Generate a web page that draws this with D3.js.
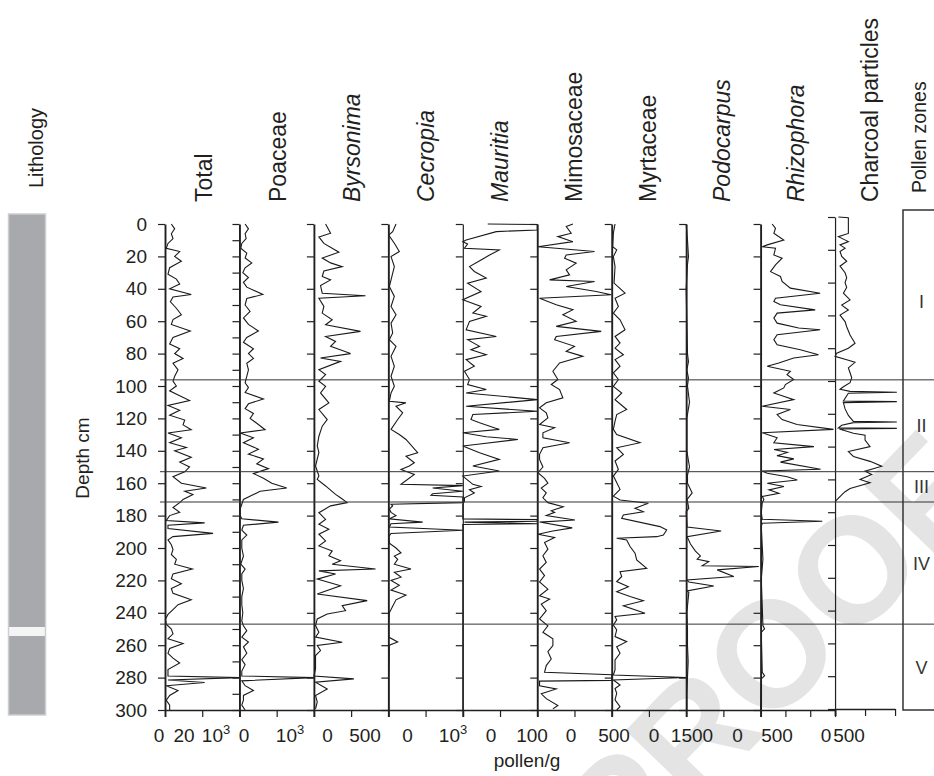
<!DOCTYPE html>
<html><head><meta charset="utf-8">
<script src="https://cdn.jsdelivr.net/npm/d3@7"></script>
<style>
body{margin:0;background:#fff;}
svg{display:block;}
text{font-family:"Liberation Sans", Arial, Helvetica, sans-serif; fill:#231f20;}
</style></head><body>
<svg id="c" width="934" height="776"></svg>
<script>
// ---------------- DATA ----------------
const taxa = ["Total","Poaceae","Byrsonima","Cecropia","Mauritia","Mimosaceae","Myrtaceae","Podocarpus","Rhizophora","Charcoal particles"];
const italicTaxa = [false,false,true,true,true,false,false,true,true,false];
const domainMax = [40,2000,1000,2000,200,1000,3000,1000,1500,1000];
const xTickValues = [[0,20,40],[0,1000,2000],[0,500,1000],[0,1000,2000],[0,100,200],[0,500,1000],[0,1500,3000],[0,500,1000],[0,500,1000,1500],[0,500,1000]];
const bottomTickLabels = ["0","20","10^3","0","10^3","0","500","0","10^3","0","100","0","500","0","1500","0","500","0","500"];
const depthTickLabels = [0,20,40,60,80,100,120,140,160,180,200,220,240,260,280,300];
const zoneBoundaries = [96.2,152.9,171.6,247];
const zoneNames = ["I","II","III","IV","V"];
const lithology = [{from:0,to:247.3,type:"sediment"},{from:247.3,to:252.7,type:"sand"},{from:252.7,to:300,type:"sediment"}];

const totalSeries = [[0,3.4],[3,5.2],[6,3.4],[9,4.3],[12,1.6],[15,0.7],[17,7.9],[20,5.2],[23,8.8],[27,2.5],[31,1.6],[34,6.1],[37,7.9],[40,2.5],[43.5,14.1],[45,4.3],[48,2.9],[52,6.1],[56,8.8],[59,4.3],[62,3.4],[66,13.6],[70,4.3],[74,2.5],[77,7.9],[80,5.2],[83,9.7],[86,4.3],[90,7],[94,5.2],[97,4.3],[100,6.1],[103,2.5],[106,7.9],[109,13.2],[112,1.6],[115,7.9],[118,2.5],[121,10.6],[124,9.7],[127,14.1],[129,1.6],[132,8.8],[135,2.5],[138,11.5],[140,5.2],[144,14.1],[147,7.9],[150,13.2],[153,10.6],[156,4.3],[160,8.8],[163,22.2],[165,10.6],[167,15],[170,9.7],[172,7.9],[175,4.3],[178,7.9],[180,2.5],[183,0.7],[184.5,21.3],[186,1.6],[188,1.6],[191,25.8],[193,4.3],[195,1.6],[198,3.4],[201,4.3],[204,3.4],[207,6.1],[210,5.2],[213,14.7],[216,4.3],[219,3.4],[222,8.8],[225,3.4],[228,4.3],[232,14.1],[235,7],[238,4.3],[241,1.6],[244,0.2],[247,0.7],[250,3.4],[253,4.3],[256,1.6],[259,9.7],[262,2.5],[265,1.6],[268,4.3],[271,7.9],[275,1.6],[279,1.6],[280,40],[281.5,1.6],[283,21.3],[285,0.7],[288,7],[291,2.5],[294,0.7],[297,2.5],[300,2.5]];

const poaceaeSeries = [[0,152],[3,242],[6,152],[9,179],[12,63],[15,36],[18,197],[21,152],[24,331],[27,152],[30,90],[33,242],[36,107],[39,197],[43.5,627],[46,197],[50,152],[54,286],[58,107],[62,242],[66,510],[70,197],[73,107],[77,376],[80,242],[83,376],[86,197],[90,242],[94,197],[98,152],[101,242],[104,152],[108,644],[111,242],[114,152],[117,376],[120,286],[123,465],[127,689],[129,18],[132,376],[135,107],[139,510],[142,242],[145,644],[148,465],[151,779],[154,376],[157,644],[160,868],[163,1271],[165,555],[167,376],[170,107],[173,63],[176,18],[180,18],[182,63],[184,1047],[186,107],[189,63],[192,197],[195,63],[200,63],[205,107],[210,36],[213,152],[216,63],[220,63],[225,107],[230,63],[235,63],[240,90],[245,63],[248,107],[251,197],[255,63],[258,242],[261,107],[265,197],[269,63],[272,152],[276,63],[279,63],[280,2000],[282,63],[285,152],[288,376],[291,107],[294,107],[297,63],[300,152]];

const byrsonimaSeries = [[0,157],[5.7,224],[8,67],[12,134],[17.4,336],[21,112],[24,224],[26.3,380],[29,134],[32.4,112],[34.5,224],[38,89],[42.7,112],[44.3,693],[45.8,67],[50.9,134],[55,112],[59.1,246],[62.2,157],[66.3,626],[69.4,157],[72.5,291],[75.5,224],[80,492],[82.7,89],[84.8,358],[89.9,67],[93,157],[97.1,67],[100.2,157],[104.3,89],[110.4,201],[114.5,67],[120.7,179],[124.8,112],[131,67],[137,45],[141,67],[149.4,22],[155.6,67],[157.6,45],[161.7,157],[166.9,291],[169,358],[172,447],[174,224],[178.2,67],[182.3,157],[185.3,67],[188.4,201],[191.5,67],[195.6,157],[198.7,67],[201.8,246],[204.8,201],[207.9,358],[210,246],[213,828],[214.1,67],[216.1,291],[219.2,45],[223.3,358],[228.4,45],[232.5,716],[235.6,380],[238.7,425],[240.7,179],[243.8,45],[247.9,22],[252,67],[255,22],[258.2,380],[260.2,45],[263.3,89],[266.4,22],[274.6,22],[279,0],[280.8,537],[282.8,22],[287,179],[291,22],[295,45],[299.3,22]];

const cecropiaSeries = [[0,206],[4.7,116],[6.8,9],[11.9,161],[17,295],[20.1,72],[26.3,161],[34.5,72],[38.6,27],[44.7,161],[50.9,72],[56,206],[61.2,72],[67.3,116],[71.4,27],[75.5,206],[81.7,72],[87.8,161],[94,72],[100.2,161],[104.3,72],[109.4,27],[110.4,474],[112.5,206],[116.6,385],[120.7,251],[126.8,72],[129.9,295],[133,474],[141.2,788],[143.3,474],[147.4,698],[149.4,564],[151.5,340],[154.6,698],[160.7,340],[161.5,2000],[163,1190],[165,2000],[166.5,1190],[167.5,1145],[168.5,2000],[172,2000],[173,72],[174,116],[176,27],[178,72],[180,206],[182,27],[184,922],[185,72],[187,27],[189,2000],[191,72],[193,9],[197,27],[200,206],[203,340],[205,161],[207,251],[210,161],[213,608],[215,161],[218,340],[220,72],[223,295],[226,72],[229,474],[232,206],[236,116],[240,27],[245,9],[255,9],[258,251],[260,27],[280,9],[300,9]];

const mauritiaSeries = [[0,67],[0.3,200],[3.7,200],[4.7,90],[9.9,9],[10.9,0],[12.3,13],[15,4.5],[16,98],[19.1,72],[22.2,49],[26.3,18],[29.3,31],[33.4,63],[36.5,13],[41.7,49],[46.8,0],[50.9,49],[55,27],[57,63],[60.1,18],[65.3,9],[69.4,90],[71.4,13],[75.5,45],[77.6,22],[80.7,63],[83.7,9],[87.8,31],[90.9,4.5],[96,18],[99.1,13],[102.2,63],[104.3,9],[108.4,200],[112.5,9],[115.6,200],[117.6,27],[120.7,22],[122.7,45],[126.8,98],[128.9,0],[131.3,63],[133,148],[136,40],[137,0],[141.2,45],[145.3,98],[149.4,27],[152.5,98],[155.6,0],[160.7,27],[162,49],[164,18],[166,31],[169,4.5],[171,4.5],[173,0],[182,0],[182.5,200],[183.5,200],[184,4.5],[185,200],[185.5,0],[300,0]];

const mimosaceaeSeries = [[0,479],[1.6,389],[5.7,456],[7.8,277],[10.9,479],[14,9],[15,255],[17,770],[19.1,389],[21.1,367],[24.2,523],[28.3,389],[31.4,434],[34.5,166],[35.5,770],[38.6,389],[41.7,792],[43.7,993],[45.8,31],[49.9,255],[52.9,479],[56,344],[60.1,523],[63.2,255],[66.3,859],[69.4,255],[71.4,233],[75.5,501],[78.6,389],[81.7,613],[85.8,300],[90.9,210],[96,277],[99.1,188],[102.2,300],[107.3,344],[110.4,121],[113.5,31],[116.6,121],[119.7,143],[123.8,31],[125.8,233],[128.9,76],[132,76],[135,434],[138.1,76],[142.2,31],[145.3,31],[150,76],[153.5,9],[157,98],[160,143],[163,54],[166,121],[169,76],[172,143],[174.5,349],[177,188],[178,233],[180,121],[182.7,506],[184,31],[187.6,470],[189.5,210],[191.5,9],[193.5,233],[196.6,98],[200.7,143],[204.8,76],[208.9,121],[213,31],[217,98],[221,31],[225.4,143],[229.5,31],[231.5,166],[234.6,54],[238.7,121],[243.8,31],[248,143],[252,76],[256,210],[260.2,210],[264,143],[268.5,188],[272.6,121],[276.7,98],[278.2,1000],[281.7,1000],[282.2,31],[285,31],[287,255],[290,54],[293,121],[297.2,277],[299.3,210]];

const myrtaceaeSeries = [[0,135],[5.7,67],[14,40],[16,202],[20.1,67],[26.3,135],[36.5,94],[42.7,538],[45.8,135],[50.9,269],[55,67],[59.1,336],[65.3,538],[69.4,135],[73.5,336],[76.6,135],[80.7,471],[83.7,135],[87.8,336],[91.9,67],[96,269],[100.2,67],[104.3,404],[108.4,135],[114.5,605],[117.6,202],[121.7,135],[126.8,67],[129.9,202],[135,1143],[138.1,202],[142.2,471],[146.3,135],[151.5,269],[155.6,67],[157.6,135],[163.8,336],[168,67],[170.4,336],[172.4,1477],[175.5,940],[177.6,1276],[179.6,470],[181.7,403],[186.8,1947],[188.9,2216],[192,2082],[193,1813],[194,201],[195,604],[199.1,739],[203.2,940],[207.4,1007],[212.5,1410],[214.6,336],[217.6,403],[220.7,201],[223.9,672],[227,201],[230,739],[232.6,1276],[235.7,470],[240.3,1343],[242.3,134],[244.4,201],[247.5,67],[250.6,201],[254.7,134],[257.8,604],[260.9,201],[265,336],[269.1,134],[275.3,134],[278.4,67],[279.9,3000],[281.5,67],[284.6,336],[286.7,134],[289.7,201],[293.8,134],[297.9,336],[300,200]];

const podocarpusSeries = [[0,0],[10,18],[20,31],[25,18],[40,0],[60,9],[80,18],[85,31],[90,9],[95,31],[100,18],[110,45],[120,9],[140,9],[150,45],[155,18],[160,18],[166,81],[170,13],[175.5,36],[177.6,0],[187,13],[189.5,470],[193,13],[197.5,58],[201.9,125],[204.9,192],[206.9,148],[208.4,304],[211,215],[211.4,976],[213.5,416],[217.6,640],[219.8,13],[221,36],[223.5,371],[226.5,13],[227.5,36],[240,9],[250,18],[260,18],[270,27],[280,18],[290,9],[300,9]];

const rhizophoraSeries = [[0,233],[2.7,300],[5.7,267],[9.9,467],[12.9,133],[14,33],[15,300],[19.1,267],[21.1,433],[25.2,300],[29.4,200],[32.4,400],[35.5,433],[39.6,600],[42.7,1200],[45.8,300],[47.8,267],[49.9,400],[53,1100],[55,333],[58.1,267],[61.2,333],[64.2,767],[65.3,1200],[68.3,333],[71.4,267],[74.5,333],[77.6,800],[80.7,1167],[82.7,667],[85.8,367],[87.8,133],[90.9,600],[93,533],[96,667],[99.1,500],[101.2,467],[104.3,267],[108.4,667],[112.5,33],[114.5,600],[117.6,333],[120.7,433],[123.8,733],[126.8,1467],[128.9,33],[132,333],[135,267],[137.4,1075],[139.2,270],[141,540],[143,330],[145,670],[147,400],[151.4,1209],[152.5,30],[153.9,134],[156,537],[158,739],[160,134],[162,470],[164.1,168],[166.2,369],[168.2,34],[170,67],[172,33],[178.2,13],[182.3,33],[183.5,1242],[184.7,33],[186.4,13],[198.7,33],[206.9,47],[219.2,13],[247.9,47],[250,80],[252,13],[276.7,33],[278.8,80],[280.8,13],[300,0]];

const charcoalSeries = [[0,56],[0.4,222],[10,222],[12,56],[15,222],[17,83],[19,167],[21,83],[24,111],[27,194],[30,83],[34,167],[37,194],[40,167],[43,194],[46.5,139],[50.6,250],[53.7,111],[56.7,222],[59.8,83],[63.8,167],[66.9,194],[72,250],[77,333],[80,222],[83,28],[85,0],[87,194],[88.6,333],[92,222],[95,250],[98,278],[101,250],[103.5,139],[105,83],[106.3,250],[106.9,1030],[107.5,222],[112.2,139],[112.6,1030],[113.2,139],[117,167],[121,222],[124.6,306],[125,1030],[125.4,306],[127,111],[128.6,56],[128.9,1030],[129.3,72],[131.9,306],[133,500],[136,500],[140,583],[143,222],[146,306],[149,583],[152,778],[155,500],[157,611],[160,417],[162,583],[165.5,250],[167.5,167],[169.5,111],[172.5,28],[173.5,0]];

const seriesList = [totalSeries,poaceaeSeries,byrsonimaSeries,cecropiaSeries,mauritiaSeries,mimosaceaeSeries,myrtaceaeSeries,podocarpusSeries,rhizophoraSeries,charcoalSeries];

// ---------------- LAYOUT ----------------
const svg = d3.select("#c");
const y = d3.scaleLinear().domain([0,300]).range([224,710]);
const yChar = d3.scaleLinear().domain([0,300]).range([217,709]);
const yLith = d3.scaleLinear().domain([0,300]).range([214,715]);
const step = 74.45, firstAxis = 165;
const bottomLabelX = [159,184,216,244,290,327.5,365,407.5,453,491,532,571,614,654,692,737.5,777,826,849];
const ink = "#231f20";

// watermark
svg.append("text")
  .attr("transform","translate(770,652) rotate(-46)")
  .attr("text-anchor","middle").attr("dy","0.36em")
  .style("font-size","150px").style("font-weight","bold").style("fill","#e4e4e4")
  .text("PROOF");

// lithology column
svg.selectAll("rect.lith").data(lithology).join("rect").attr("class","lith")
  .attr("x",8.5).attr("width",37)
  .attr("y",d=>yLith(d.from)).attr("height",d=>yLith(d.to)-yLith(d.from))
  .attr("fill",d=>d.type==="sand"?"#f5f5f5":"#a7a9ac");
svg.append("rect").attr("x",8.5).attr("y",yLith(0)).attr("width",37).attr("height",yLith(300)-yLith(0))
  .attr("fill","none").attr("stroke","#cdcecf").attr("stroke-width",1.5);
svg.append("text").attr("transform","translate(42.5,188) rotate(-90)")
  .style("font-size","20px").text("Lithology");

// depth label
svg.append("text").attr("transform","translate(89,458) rotate(-90)")
  .attr("text-anchor","middle").style("font-size","19px").text("Depth cm");

// panels
taxa.forEach((name,i)=>{
  const left = firstAxis + i*step;
  const w = i===9 ? 60 : step;
  const ys = i===9 ? yChar : y;
  const x = d3.scaleLinear().domain([0,domainMax[i]]).range([left,left+w]);
  const g = svg.append("g");

  // data line
  g.append("path").datum(seriesList[i])
    .attr("d", d3.line().x(d=>x(d[1])).y(d=>ys(d[0])))
    .attr("fill","none").attr("stroke","#1a1a1a").attr("stroke-width",1.1).attr("stroke-linejoin","miter");

  // left (depth) axis
  const tv = i===1 ? d3.range(0,301,10) : depthTickLabels;
  const ax = d3.axisLeft(ys).tickValues(tv).tickSize(7).tickSizeOuter(0).tickPadding(11)
    .tickFormat(i===0 ? d3.format("d") : "");
  const ga = g.append("g").attr("transform",`translate(${left},0)`).call(ax);
  ga.select(".domain").attr("stroke",ink).attr("stroke-width", (i===4||i===9)?1.2:1.9);
  ga.selectAll(".tick line").attr("stroke",ink).attr("stroke-width",1.2);
  ga.selectAll(".tick text").style("font-size","19px").style("font-family","'Liberation Sans', Arial, sans-serif").attr("fill",ink);

  // bottom axis
  const bx = d3.axisBottom(x).tickValues(xTickValues[i]).tickSize(7).tickSizeOuter(0).tickFormat("");
  const gb = g.append("g").attr("transform",`translate(0,${ys(300)})`).call(bx);
  gb.select(".domain").attr("stroke",ink).attr("stroke-width",1.5);
  gb.selectAll(".tick line").attr("stroke",ink).attr("stroke-width",(d,j)=>j===0?1.9:1.2);

  // title
  svg.append("text").attr("transform",`translate(${212+i*74},202) rotate(-90)`)
    .style("font-size","23px").style("font-style",italicTaxa[i]?"italic":"normal")
    .text(name);
});

// bottom tick labels
bottomTickLabels.forEach((t,k)=>{
  const tx = svg.append("text").attr("x",bottomLabelX[k]).attr("y",741.5)
    .attr("text-anchor","middle").style("font-size","19px");
  if (t.includes("^")) {
    const [b,e] = t.split("^");
    tx.append("tspan").text(b);
    tx.append("tspan").attr("dy",-8).style("font-size","13px").text(e);
  } else tx.text(t);
});
svg.append("text").attr("x",527).attr("y",767).attr("text-anchor","middle")
  .style("font-size","19px").text("pollen/g");

// zone lines
svg.selectAll("line.zone").data(zoneBoundaries).join("line").attr("class","zone")
  .attr("x1",160).attr("x2",934).attr("y1",d=>y(d)).attr("y2",d=>y(d))
  .attr("stroke","#333").attr("stroke-width",1);

// pollen zones box
svg.append("rect").attr("x",903).attr("y",210).attr("width",60).attr("height",500)
  .attr("fill","none").attr("stroke","#333").attr("stroke-width",1.5);
const zb = [0,...zoneBoundaries,300];
svg.selectAll("text.zl").data(zoneNames).join("text").attr("class","zl")
  .attr("x",921.5).attr("y",(d,k)=>y((zb[k]+zb[k+1])/2)).attr("dy","0.36em")
  .attr("text-anchor","middle").style("font-size","18px").style("fill","#333")
  .text(d=>d);
svg.append("text").attr("transform","translate(925.5,193) rotate(-90)")
  .style("font-size","19.5px").text("Pollen zones");
</script>
</body></html>
